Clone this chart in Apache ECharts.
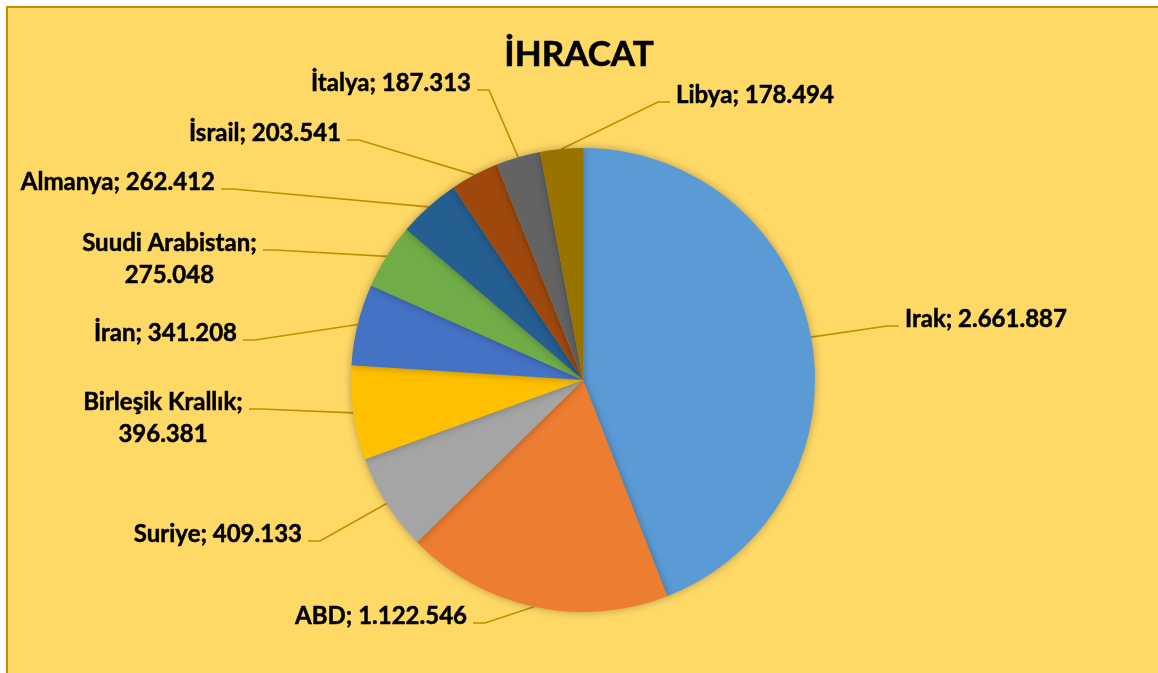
<!DOCTYPE html>
<html><head><meta charset="utf-8">
<script src="https://cdn.jsdelivr.net/npm/echarts@6/dist/echarts.min.js"></script>
<style>html,body{margin:0;padding:0;background:#fff}#c{width:1158px;height:673px}</style>
</head><body><div id="c"></div>
<script>
const titleText = 'İHRACAT';
const categories = ['Irak','ABD','Suriye','Birleşik Krallık','İran','Suudi Arabistan','Almanya','İsrail','İtalya','Libya'];
const values = [2661887,1122546,409133,396381,341208,275048,262412,203541,187313,178494];
const colors = ['#5B9BD5','#ED7D31','#A5A5A5','#FFC000','#4472C4','#70AD47','#255E91','#9E480E','#636363','#997300'];

// layout only (pixels): pie geometry and label anchor points (end of leader line), side: 1 label to the right, -1 to the left
const CX = 583, CY = 380, R = 232;
const anchors = [[899,326,1],[473,623,-1],[308,541,-1],[249,409,-1],[243,340,-1],[263,250,-1],[221,189,-1],[347,140,-1],[477,90,-1],[670,102,1]];
const wrapLabel = [false,false,false,true,false,true,false,false,false,false];

function fmt(v){ return String(v).replace(/\B(?=(\d{3})+(?!\d))/g,'.'); }
const total = values.reduce((a,b)=>a+b,0);
const mids = []; let acc = 0;
values.forEach(v=>{ mids.push((acc + v/2)/total*2*Math.PI); acc += v; });

const chart = echarts.init(document.getElementById('c'), null, {renderer:'canvas'});
chart.setOption({
  animation:false,
  backgroundColor:'#ffffff',
  graphic:[{type:'rect', z:-10, silent:true, shape:{x:7,y:7,width:1200,height:720}, style:{fill:'#FFD966', stroke:'#BF9000', lineWidth:2}}],
  title:{text:titleText, left:'center', top:32, textStyle:{fontFamily:'Lato', fontWeight:'bold', fontSize:35, color:'#000', textBorderColor:'#000', textBorderWidth:0.6}},
  series:[{
    type:'pie', center:[CX,CY], radius:R, startAngle:90, clockwise:true, avoidLabelOverlap:false, silent:true,
    data: categories.map((n,i)=>({name:n, value:values[i], itemStyle:{color:colors[i]}})),
    itemStyle:{shadowBlur:8, shadowColor:'rgba(0,0,0,0.3)'},
    label:{show:true, position:'outside', fontFamily:'Lato', fontWeight:'bold', fontSize:24, color:'#000', lineHeight:32,
      textBorderColor:'#000', textBorderWidth:0.5,
      formatter: p => p.name + ';' + (wrapLabel[p.dataIndex] ? '\n' : ' ') + fmt(p.value)},
    labelLine:{show:true, length:15, length2:15, lineStyle:{color:'#BF9000', width:1.7}},
    labelLayout: function(p){
      const i = p.dataIndex, a = anchors[i];
      const ax = a[0], ay = a[1], side = a[2];
      const th = mids[i];
      const sx = CX + R*Math.sin(th), sy = CY - R*Math.cos(th);
      const bx = ax - side*12;
      const w = p.labelRect.width;
      let x, align;
      if (wrapLabel[i]) { align = 'center'; x = ax + side*(6 + w/2); }
      else { align = side > 0 ? 'left' : 'right'; x = ax + side*6; }
      return {x:x, y:ay-23, align:align, verticalAlign:'top', labelLinePoints:[[sx,sy],[bx,ay],[ax,ay]]};
    }
  }]
});
</script></body></html>
